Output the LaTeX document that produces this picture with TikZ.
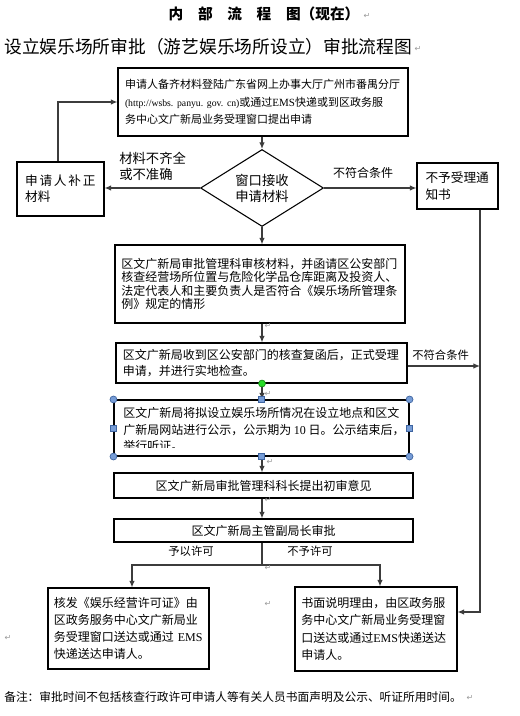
\documentclass[tikz,border=0pt]{standalone}
\usepackage{fontspec}
\setmainfont{Noto Sans CJK SC}
\newfontfamily\dejavu{DejaVu Sans}
\newfontfamily\lserif{Liberation Serif}
\usetikzlibrary{shapes.geometric,arrows.meta}
\definecolor{hfill}{RGB}{118,156,214}
\definecolor{hdraw}{RGB}{62,100,160}
\definecolor{gfill}{RGB}{40,220,40}
\definecolor{gdraw}{RGB}{20,140,20}
\definecolor{conncol}{RGB}{60,60,60}
\frenchspacing
\begin{document}
\begin{tikzpicture}[x=0.75pt,y=-0.75pt,
  box/.style={draw=black, line width=0.8pt, inner sep=0pt, align=left},
  cbox/.style={draw=black, line width=0.8pt, inner sep=0pt, align=center},
  conn/.style={draw=conncol, line width=0.9pt},
  arr/.style={conn, -{Latex[length=5pt,width=4.2pt]}},
  txt/.style={inner sep=0pt},
  ret/.style={inner sep=0pt, text=black!40, font=\dejavu\fontsize{6}{6}\selectfont},
  handle/.style={fill=hfill, draw=hdraw, line width=0.5pt}]
\fill[white] (0,0) rectangle (520,716);
\useasboundingbox (0,0) rectangle (520,716);

% titles
\node[txt, font=\bfseries\fontsize{11}{13}\selectfont] (title) at (264,14) {内\hspace{1em}部\hspace{1em}流\hspace{1em}程\hspace{1em}图（现在）};
\node[ret] (r1) at (367,16) {↵};
\node[txt, anchor=west, font=\fontsize{13.3}{15}\selectfont] (sub) at (4,47) {设立娱乐场所审批（游艺娱乐场所设立）审批流程图};
\node[ret] (r2) at (418,49) {↵};

% boxes
\node[box, text width=207pt, minimum width=217.5pt, minimum height=51pt, font=\fontsize{8.25}{13}\selectfont] (box1) at (263,102)
 {申请人备齐材料登陆广东省网上办事大厅广州市番禺分厅\\
  {\lserif\fontsize{7.3}{9}\selectfont (http://wsbs. panyu. gov. cn)}或通过{\lserif EMS}快递或到区政务服\\
  务中心文广新局业务受理窗口提出申请};

\node[draw=black, line width=0.8pt, shape=diamond, shape aspect=1.6, inner sep=0pt, minimum width=92.25pt, minimum height=57.75pt, align=center, font=\fontsize{10}{12}\selectfont] (dia) at (262,188) {窗口接收\\申请材料};

\node[box, text width=53pt, minimum width=65.25pt, minimum height=40.5pt, font=\fontsize{9.5}{12}\selectfont] (lbox) at (60.5,189)
 {申\hspace{1.3pt}请\hspace{1.3pt}人\hspace{1.3pt}补\hspace{1.3pt}正\\材料};

\node[box, text width=48pt, minimum width=60.75pt, minimum height=34.5pt, font=\fontsize{9.5}{13}\selectfont] (rbox) at (457.5,186)
 {不予受理通\\知书};

\node[txt, anchor=west, align=left, font=\fontsize{10}{12}\selectfont] (l1) at (119,166) {材料不齐全\\或不准确};
\node[txt, font=\fontsize{9}{11}\selectfont] (l2) at (363,173) {不符合条件};

\node[box, text width=208pt, minimum width=217.5pt, minimum height=58.5pt, font=\fontsize{9}{10.2}\selectfont] (box3) at (260,284)
 {区文广新局审批管理科审核材料，并函请区公安部门\\
  核查经营场所位置与危险化学品仓库距离及投资人、\\
  法定代表人和主要负责人是否符合《娱乐场所管理条\\
  例》规定的情形};

\node[box, text width=208pt, minimum width=218.25pt, minimum height=30pt, font=\fontsize{9}{12.5}\selectfont] (box4) at (261.5,363)
 {区文广新局收到区公安部门的核查复函后，正式受理\\
  申请，并进行实地检查。};

\node[draw=black, line width=0.8pt, inner sep=0pt, minimum width=221.25pt, minimum height=42pt] (box5) at (261.5,428) {};
\begin{scope}
\clip (110,396) rectangle (412,447.5);
\node[txt, anchor=west, align=left, font=\fontsize{9}{12.4}\selectfont] (t5) at (123,429.5)
 {区文广新局将拟设立娱乐场所情况在设立地点和区文\\
  广新局网站进行公示，公示期为 {\lserif 10} 日。公示结束后，\\
  举行听证。};
\end{scope}

\node[cbox, minimum width=224.25pt, minimum height=18.75pt, font=\fontsize{9}{11}\selectfont] (box6) at (263.5,485.5) {区文广新局审批管理科科长提出初审意见};
\node[cbox, minimum width=224.25pt, minimum height=17.25pt, font=\fontsize{9}{11}\selectfont] (box7) at (263.5,530.5) {区文广新局主管副局长审批};

\node[txt, anchor=west, font=\fontsize{8.5}{10}\selectfont] (l3) at (412,355) {不符合条件};
\node[txt, font=\fontsize{8.5}{10}\selectfont] (l4) at (191,551) {予以许可};
\node[txt, font=\fontsize{8.5}{10}\selectfont] (l5) at (310,551) {不予许可};

\node[box, text width=112pt, minimum width=120.75pt, minimum height=60.75pt, font=\fontsize{9}{12.9}\selectfont] (bl) at (128.5,628.5)
 {核发《娱乐经营许可证》由\\
  区政务服务中心文广新局业\\
  务受理窗口送达或通过~{\lserif EMS}\\
  快递送达申请人。};

\node[box, text width=112pt, minimum width=121.5pt, minimum height=63pt, font=\fontsize{9}{12.9}\selectfont] (br) at (376,629)
 {书面说明理由，由区政务服\\
  务中心文广新局业务受理窗\\
  口送达或通过{\lserif EMS}快递送达\\
  申请人。};

\node[txt, anchor=west, font=\fontsize{8.8}{10}\selectfont] (foot) at (4,697) {备注：审批时间不包括核查行政许可申请人等有关人员书面声明及公示、听证所用时间。};
\node[ret] (r3) at (470,698) {↵};

% helper coordinates
\coordinate (lbx) at (58,0);
\coordinate (rvx) at (480,0);
\coordinate (blx) at (132,0);
\coordinate (brx) at (380,0);
\coordinate (y366) at (0,366);
\coordinate (y565) at (0,565);
\coordinate (y612) at (0,612);

% connectors
\draw[arr] (lbox.north -| lbx) |- (box1.west);
\draw[arr] (box1.south -| dia.north) -- (dia.north);
\draw[arr] (dia.west) -- (lbox.east |- dia.west);
\draw[arr] (dia.east) -- (rbox.west |- dia.east);
\draw[arr] (dia.south) -- (dia.south |- box3.north);
\draw[arr] (box3.south -| dia.south) -- (dia.south |- box4.north);
\draw[arr] (box4.south -| dia.south) -- (dia.south |- box5.north);
\draw[arr] (box5.south -| dia.south) -- (dia.south |- box6.north);
\draw[arr] (box6.south -| dia.south) -- (dia.south |- box7.north);
\draw[conn] (box7.south -| dia.south) -- (dia.south |- y565);
\draw[arr] (dia.south |- y565) -| (bl.north -| blx);
\draw[arr] (dia.south |- y565) -| (br.north -| brx);
\draw[arr] (box4.east |- y366) -- (rvx |- y366);
\draw[arr] (rbox.south -| rvx) -- (rvx |- y612) -- (br.east |- y612);

% selection handles on box5
\filldraw[fill=gfill, draw=gdraw, line width=0.5pt] (box4.south -| dia.south) circle[radius=2.6pt];
\foreach \a in {north west, north east, south west, south east}
  \filldraw[handle] (box5.\a) circle[radius=2.6pt];
\foreach \a in {north, south, west, east}
  \filldraw[handle] ([xshift=-2.2pt,yshift=-2.2pt]box5.\a) rectangle ([xshift=2.2pt,yshift=2.2pt]box5.\a);

% paragraph marks
\node[ret] (r4) at (268,326) {↵};
\node[ret] (r5) at (268,394) {↵};
\node[ret] (r6) at (270,462) {↵};
\node[ret] (r7) at (268,500) {↵};
\node[ret] (r8) at (268,568) {↵};
\node[ret] (r9) at (268,604) {↵};
\node[ret] (r10) at (8,638) {↵};
\end{tikzpicture}
\end{document}
